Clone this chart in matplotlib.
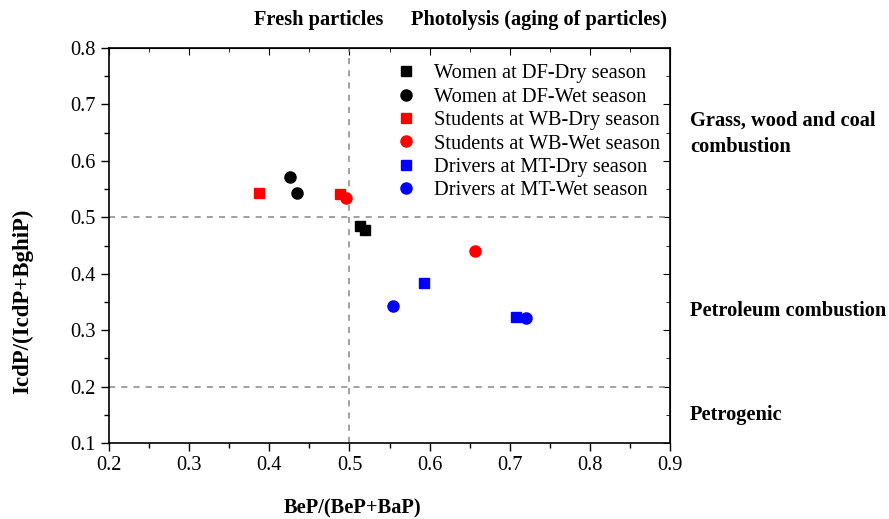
import matplotlib
matplotlib.use("Agg")
import matplotlib.pyplot as plt
from matplotlib.ticker import MultipleLocator

plt.rcParams['font.family'] = ['Liberation Serif', 'DejaVu Serif']

labels = ["Women at DF-Dry season", "Women at DF-Wet season",
          "Students at WB-Dry season", "Students at WB-Wet season",
          "Drivers at MT-Dry season", "Drivers at MT-Wet season"]
colors = ["black", "black", "red", "red", "blue", "blue"]
markers = ["s", "o", "s", "o", "s", "o"]

x_women_dry = [0.513, 0.519]
y_women_dry = [0.485, 0.477]
x_women_wet = [0.426, 0.434]
y_women_wet = [0.572, 0.543]
x_students_dry = [0.387, 0.488]
y_students_dry = [0.543, 0.541]
x_students_wet = [0.496, 0.657]
y_students_wet = [0.534, 0.441]
x_drivers_dry = [0.593, 0.708]
y_drivers_dry = [0.384, 0.324]
x_drivers_wet = [0.554, 0.720]
y_drivers_wet = [0.343, 0.321]

xs = [x_women_dry, x_women_wet, x_students_dry, x_students_wet, x_drivers_dry, x_drivers_wet]
ys = [y_women_dry, y_women_wet, y_students_dry, y_students_wet, y_drivers_dry, y_drivers_wet]

FS = 14.7

fig = plt.figure(figsize=(8.89, 5.19), dpi=100)
ax = fig.add_axes([0.1226, 0.1464, 0.6311, 0.7611])

ax.axvline(0.5, color='#888888', ls=(0, (4, 4)), lw=1.1, zorder=1)
ax.axhline(0.5, color='#888888', ls=(0, (4, 4)), lw=1.1, zorder=1)
ax.axhline(0.2, color='#888888', ls=(0, (4, 4)), lw=1.1, zorder=1)

for x, y, c, m, lab in zip(xs, ys, colors, markers, labels):
    ms = 6.5 if m == 's' else 8
    ax.plot(x, y, ls='none', marker=m, color=c, markersize=ms, label=lab, zorder=3)

ax.set_xlim(0.2, 0.9)
ax.set_ylim(0.1, 0.8)
ax.xaxis.set_major_locator(MultipleLocator(0.1))
ax.xaxis.set_minor_locator(MultipleLocator(0.05))
ax.yaxis.set_major_locator(MultipleLocator(0.1))
ax.yaxis.set_minor_locator(MultipleLocator(0.05))
ax.set_xticklabels([f"{v:.1f}" for v in ax.get_xticks()])
ax.set_yticklabels([f"{v:.1f}" for v in ax.get_yticks()])
ax.tick_params(axis='both', which='major', direction='out', length=6, width=1, labelsize=FS)
ax.tick_params(axis='both', which='minor', direction='out', length=3.5, width=1)
for s in ax.spines.values():
    s.set_linewidth(1.2)

# mirror ticks inward on top/right
axt = ax.secondary_xaxis('top')
axt.xaxis.set_major_locator(MultipleLocator(0.1))
axt.xaxis.set_minor_locator(MultipleLocator(0.05))
axt.tick_params(which='major', direction='in', length=5, labeltop=False)
axt.tick_params(which='minor', direction='in', length=3)
axr = ax.secondary_yaxis('right')
axr.yaxis.set_major_locator(MultipleLocator(0.1))
axr.yaxis.set_minor_locator(MultipleLocator(0.05))
axr.tick_params(which='major', direction='in', length=5, labelright=False)
axr.tick_params(which='minor', direction='in', length=3)

leg = ax.legend(loc='upper left', bbox_to_anchor=(0.49, 0.99), frameon=False,
                fontsize=FS, handletextpad=0.85, labelspacing=0.2,
                handlelength=1.0, borderaxespad=0.2)

fig.text(0.396, 0.021, "BeP/(BeP+BaP)", ha='center', va='center',
         fontsize=FS, fontweight='bold')
fig.text(0.025, 0.42, "IcdP/(IcdP+BghiP)", ha='center', va='center',
         rotation=90, fontsize=16.5, fontweight='bold')

fig.text(0.358, 0.962, "Fresh particles", ha='center', va='center',
         fontsize=FS, fontweight='bold')
fig.text(0.4625, 0.962, "Photolysis (aging of particles)", ha='left', va='center',
         fontsize=FS, fontweight='bold')
fig.text(0.776, 0.742, "Grass, wood and coal\ncombustion", ha='left', va='center',
         fontsize=FS, fontweight='bold', linespacing=1.45)
fig.text(0.776, 0.400, "Petroleum combustion", ha='left', va='center',
         fontsize=FS, fontweight='bold')
fig.text(0.776, 0.200, "Petrogenic", ha='left', va='center',
         fontsize=FS, fontweight='bold')

fig.savefig("out.png", dpi=100)
